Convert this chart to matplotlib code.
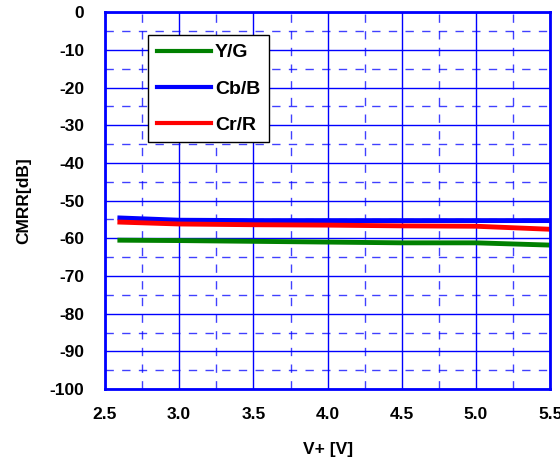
import matplotlib.pyplot as plt
from matplotlib.ticker import MultipleLocator

plt.rcParams['font.family'] = ['Liberation Sans', 'DejaVu Sans']
plt.rcParams['font.weight'] = 'bold'
plt.rcParams['axes.unicode_minus'] = False

vplus = [2.6, 3.0, 3.5, 4.0, 4.5, 5.0, 5.5]
y_g = [-60.5, -60.6, -60.8, -61.0, -61.2, -61.2, -61.8]
cb_b = [-54.6, -55.2, -55.3, -55.3, -55.3, -55.3, -55.3]
cr_r = [-55.7, -56.2, -56.4, -56.5, -56.7, -56.8, -57.6]

fig = plt.figure(figsize=(5.6, 4.66), dpi=100)
ax = fig.add_axes([0.1875, 0.165, 0.795, 0.809])

ax.plot(vplus, y_g, color='#008000', lw=3.5, label='Y/G')
ax.plot(vplus, cb_b, color='#0000ff', lw=3.5, label='Cb/B')
ax.plot(vplus, cr_r, color='#ff0000', lw=3.5, label='Cr/R')

ax.set_xlim(2.5, 5.5)
ax.set_ylim(-100, 0)

# X Axis
ax.xaxis.set_major_locator(MultipleLocator(0.5))
ax.xaxis.set_minor_locator(MultipleLocator(0.25))
ax.xaxis.set_major_formatter(plt.FormatStrFormatter('%.1f'))

# Y Axis
ax.yaxis.set_major_locator(MultipleLocator(10))
ax.yaxis.set_minor_locator(MultipleLocator(5))

ax.grid(which='major', color='#0000ff', lw=1.0, ls='-')
ax.grid(which='minor', color='#0000ff', lw=1.0, ls=(0, (6, 6)), alpha=0.75)
ax.set_axisbelow(True)
ax.tick_params(which='both', length=0, labelsize=12.5)
ax.tick_params(axis='x', pad=13)
ax.tick_params(axis='y', pad=15)
for s in ax.spines.values():
    s.set_color('#0000ff')
    s.set_linewidth(2)

ax.set_xlabel('V+ [V]', fontsize=12.5, fontweight='bold', labelpad=14)
ax.set_ylabel('CMRR[dB]', fontsize=12.5, fontweight='bold', labelpad=13)

leg = ax.legend(loc='upper left', bbox_to_anchor=(0.0966, 0.939), borderaxespad=0,
                fontsize=14, handlelength=2.8, fancybox=False, framealpha=1,
                edgecolor='black', borderpad=0.45, labelspacing=0.95,
                handletextpad=0.2)
leg.get_frame().set_linewidth(1.0)
for h in leg.get_lines():
    h.set_linewidth(3)

plt.savefig('out.png', dpi=100)
